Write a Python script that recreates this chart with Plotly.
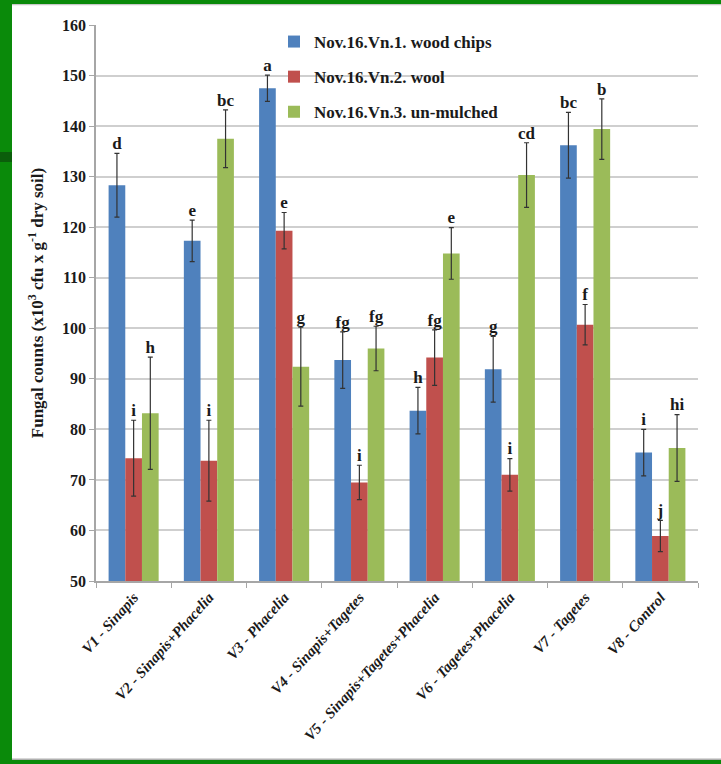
import plotly.graph_objects as go

categories = ["V1 - Sinapis", "V2 - Sinapis+Phacelia", "V3 - Phacelia", "V4 - Sinapis+Tagetes",
              "V5 - Sinapis+Tagetes+Phacelia", "V6 - Tagetes+Phacelia", "V7 - Tagetes", "V8 - Control"]
series_names = ["Nov.16.Vn.1. wood chips", "Nov.16.Vn.2. wool", "Nov.16.Vn.3. un-mulched"]

wood = [128.3, 117.3, 147.5, 93.7, 83.7, 91.9, 136.2, 75.4]
wood_err = [6.3, 4.1, 2.6, 5.6, 4.6, 6.5, 6.5, 4.6]
wool = [74.3, 73.8, 119.3, 69.5, 94.2, 71.0, 100.7, 58.9]
wool_err = [7.5, 8.0, 3.6, 3.4, 5.5, 3.2, 4.0, 3.1]
unmulched = [83.2, 137.5, 92.4, 96.0, 114.8, 130.3, 139.4, 76.3]
unmulched_err = [11.1, 5.7, 7.8, 4.4, 5.1, 6.4, 6.0, 6.6]

wood_sig = ["d", "e", "a", "fg", "h", "g", "bc", "i"]
wool_sig = ["i", "i", "e", "i", "fg", "i", "f", "j"]
unmulched_sig = ["h", "bc", "g", "fg", "e", "cd", "b", "hi"]

y_ticks = [50, 60, 70, 80, 90, 100, 110, 120, 130, 140, 150, 160]

colors = ["#4F81BD", "#C0504D", "#9BBB59"]
values = [wood, wool, unmulched]
errors = [wood_err, wool_err, unmulched_err]
sigs = [wood_sig, wool_sig, unmulched_sig]

SERIF = "Liberation Serif"
GAP = 0.335
GREEN = "#0A8A0A"

fig = go.Figure()
for i in range(3):
    fig.add_trace(go.Bar(
        x=categories, y=values[i], name=series_names[i],
        marker=dict(color=colors[i], line=dict(width=0)),
        offsetgroup=str(i), legendgroup=str(i),
        error_y=dict(type="data", array=errors[i], visible=True,
                     color="#333333", thickness=1.2, width=2.5),
    ))
for i in range(3):
    tops = [v + e for v, e in zip(values[i], errors[i])]
    fig.add_trace(go.Scatter(
        x=categories, y=tops, mode="text", text=sigs[i],
        textposition="top center", offsetgroup=str(i),
        textfont=dict(family=SERIF, size=17, color="#1a1a1a", weight="bold"),
        showlegend=False, hoverinfo="skip", cliponaxis=False,
    ))

# frame decoration (paper coords relative to plot area 96..698 x, 25..581 y)
W, H = 721, 764
L, R, T, B = 96, 23, 25, 183
pw, ph = W - L - R, H - T - B
def px(x): return (x - L) / pw
def py(y): return (H - B - y) / ph

def band(x0, x1, y0, y1, color):
    return dict(type="rect", xref="paper", yref="paper", layer="below",
                x0=px(x0), x1=px(x1), y0=py(y1), y1=py(y0),
                fillcolor=color, line=dict(width=0))

shapes = [
    band(-2, 12, -2, 766, GREEN),      # left strip
    band(-2, 723, -2, 4, GREEN),       # top strip
    band(-2, 723, 760, 766, GREEN),    # bottom strip
    band(12, 723, 4, 5.2, "#C8C8C8"),  # thin grey edge top
    band(12, 723, 758.5, 760, "#B0B0B0"),  # thin grey edge bottom
    band(-2, 12, 152, 162, "#0B5E0B"), # dark green tab
]

fig.update_layout(
    width=W, height=H,
    margin=dict(l=L, r=R, t=T, b=B),
    paper_bgcolor="white", plot_bgcolor="white",
    barmode="group", bargap=GAP, bargroupgap=0,
    scattermode="group", scattergap=GAP,
    shapes=shapes,
    font=dict(family=SERIF, color="#1a1a1a"),
    showlegend=True,
    legend=dict(x=px(274), y=py(24), xanchor="left", yanchor="top",
                bgcolor="rgba(0,0,0,0)", traceorder="grouped", tracegroupgap=10,
                font=dict(family=SERIF, size=17, color="#1a1a1a", weight="bold"),
                itemwidth=30),
    xaxis=dict(
        tickangle=-48, tickson="boundaries", ticks="outside", ticklen=5,
        tickcolor="#A6A6A6", showline=True, linecolor="#A6A6A6", linewidth=1.5,
        showgrid=False,
        tickfont=dict(family=SERIF, size=15, color="#1a1a1a", weight="bold", style="italic"),
    ),
    yaxis=dict(
        range=[50, 160], tickvals=y_ticks, ticks="outside", ticklen=5,
        tickcolor="#A6A6A6", showline=True, linecolor="#A6A6A6", linewidth=1.5,
        gridcolor="#CFCFCF", gridwidth=1.5, zeroline=False,
        tickfont=dict(family=SERIF, size=16, color="#1a1a1a", weight="bold"),
        title=dict(text="Fungal counts (x10<sup>3</sup> cfu x g<sup>-1</sup> dry soil)",
                   font=dict(family=SERIF, size=17, color="#1a1a1a", weight="bold"),
                   standoff=14),
    ),
)

fig.write_html("out.html", config={"displayModeBar": False},
               post_script="document.body.style.margin='0';document.body.style.overflow='hidden';")
